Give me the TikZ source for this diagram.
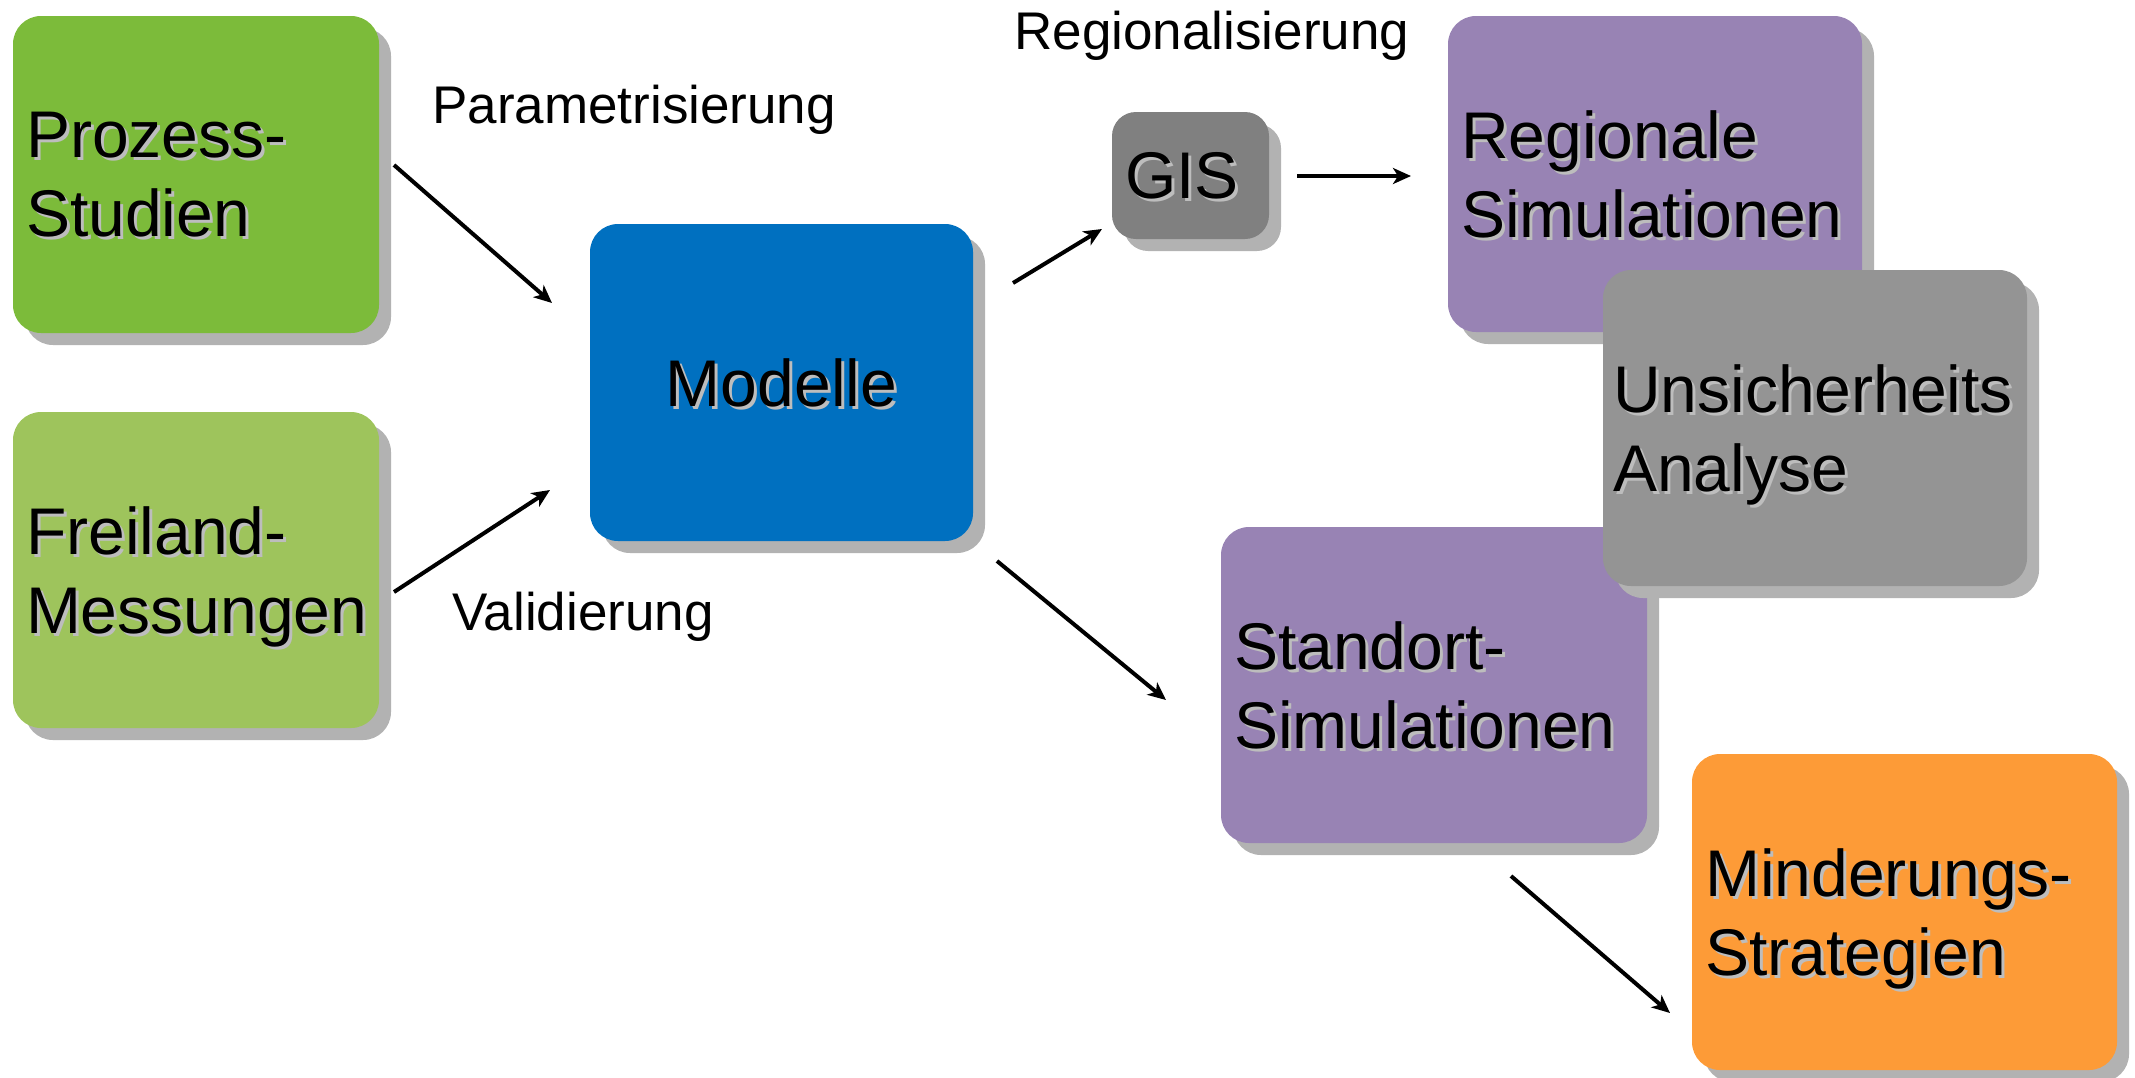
\documentclass[tikz,border=0pt]{standalone}
\usepackage{fontspec}
\setmainfont{Liberation Sans}
\usetikzlibrary{arrows.meta,shadows}
\definecolor{gProzess}{HTML}{7CBB3A}
\definecolor{gFrei}{HTML}{9EC45C}
\definecolor{bModell}{HTML}{0070C0}
\definecolor{gGIS}{HTML}{808080}
\definecolor{pSim}{HTML}{9883B4}
\definecolor{gUns}{HTML}{949494}
\definecolor{oMind}{HTML}{FD9B37}
\definecolor{shadowc}{HTML}{B2B2B2}
\definecolor{tshadowc}{HTML}{BDBDBD}
\newcommand\tsh[1]{\leavevmode\raisebox{0pt}[\height][0pt]{\rlap{\kern1.5pt\raisebox{-1.5pt}{\textcolor{tshadowc}{#1}}}#1}}
\lefthyphenmin=64
\begin{document}
\begin{tikzpicture}[x=0.5pt,y=-0.5pt,
  box/.style={rounded corners=14pt, inner xsep=6.5pt, inner ysep=0pt, align=left,
    font=\fontsize{33}{39.5}\selectfont,
    drop shadow={shadow xshift=6pt, shadow yshift=-6pt, fill=shadowc, opacity=1}},
  lbl/.style={font=\fontsize{26.5}{32}\selectfont, anchor=base west, inner sep=0pt},
  arr/.style={line width=2pt, -{Stealth[length=9pt,width=8pt,inset=2.5pt]}}]
\useasboundingbox (0,0) rectangle (2135,1077);

\node[box, fill=gProzess, text width=170pt, minimum height=158.5pt] (prozess) at (196,174.5) {\tsh{Prozess-}\\\tsh{Studien}};
\node[box, fill=gFrei, text width=170pt, minimum height=158pt] (freiland) at (196,570) {\tsh{Freiland-}\\\tsh{Messungen}};
\node[box, fill=bModell, text width=178.5pt, align=center, minimum height=158.5pt] (modelle) at (781.5,382.5) {\tsh{Modelle}\hspace*{6pt}};
\node[box, fill=gGIS, text width=65.5pt, minimum height=63.5pt, rounded corners=12pt] (gis) at (1190.5,175.5) {\tsh{GIS}};
\node[box, fill=pSim, text width=194pt, minimum height=158pt] (regional) at (1655,174) {\tsh{Regionale}\\\tsh{Simulationen}};
\node[box, fill=pSim, text width=200pt, minimum height=158pt] (standort) at (1434,685) {\tsh{Standort-}\\\tsh{Simulationen}};
\node[box, fill=gUns, text width=202pt, inner xsep=5pt, minimum height=158pt] (unsicher) at (1815,428) {\tsh{Unsicherheits}\\\tsh{Analyse}};
\node[box, fill=oMind, text width=199.5pt, minimum height=158pt] (minder) at (1904.5,912) {\tsh{Minderungs-}\\\tsh{Strategien}};

\node[lbl] (lparam) at (432,123) {Parametrisierung};
\node[lbl] (lregio) at (1014,49) {Regionalisierung};
\node[lbl] (lvalid) at (452,630) {Validierung};

\coordinate (a1s) at (394,165);  \coordinate (a1e) at (552,303);
\coordinate (a2s) at (394,592);  \coordinate (a2e) at (550,490);
\coordinate (a3s) at (1013,283); \coordinate (a3e) at (1102,229);
\coordinate (a4s) at (1297,176); \coordinate (a4e) at (1411,176);
\coordinate (a5s) at (997,561);  \coordinate (a5e) at (1166,700);
\coordinate (a6s) at (1511,876); \coordinate (a6e) at (1670,1013);

\draw[arr] (a1s) -- (a1e);
\draw[arr] (a2s) -- (a2e);
\draw[arr] (a3s) -- (a3e);
\draw[arr] (a4s) -- (a4e);
\draw[arr] (a5s) -- (a5e);
\draw[arr] (a6s) -- (a6e);
\end{tikzpicture}
\end{document}
